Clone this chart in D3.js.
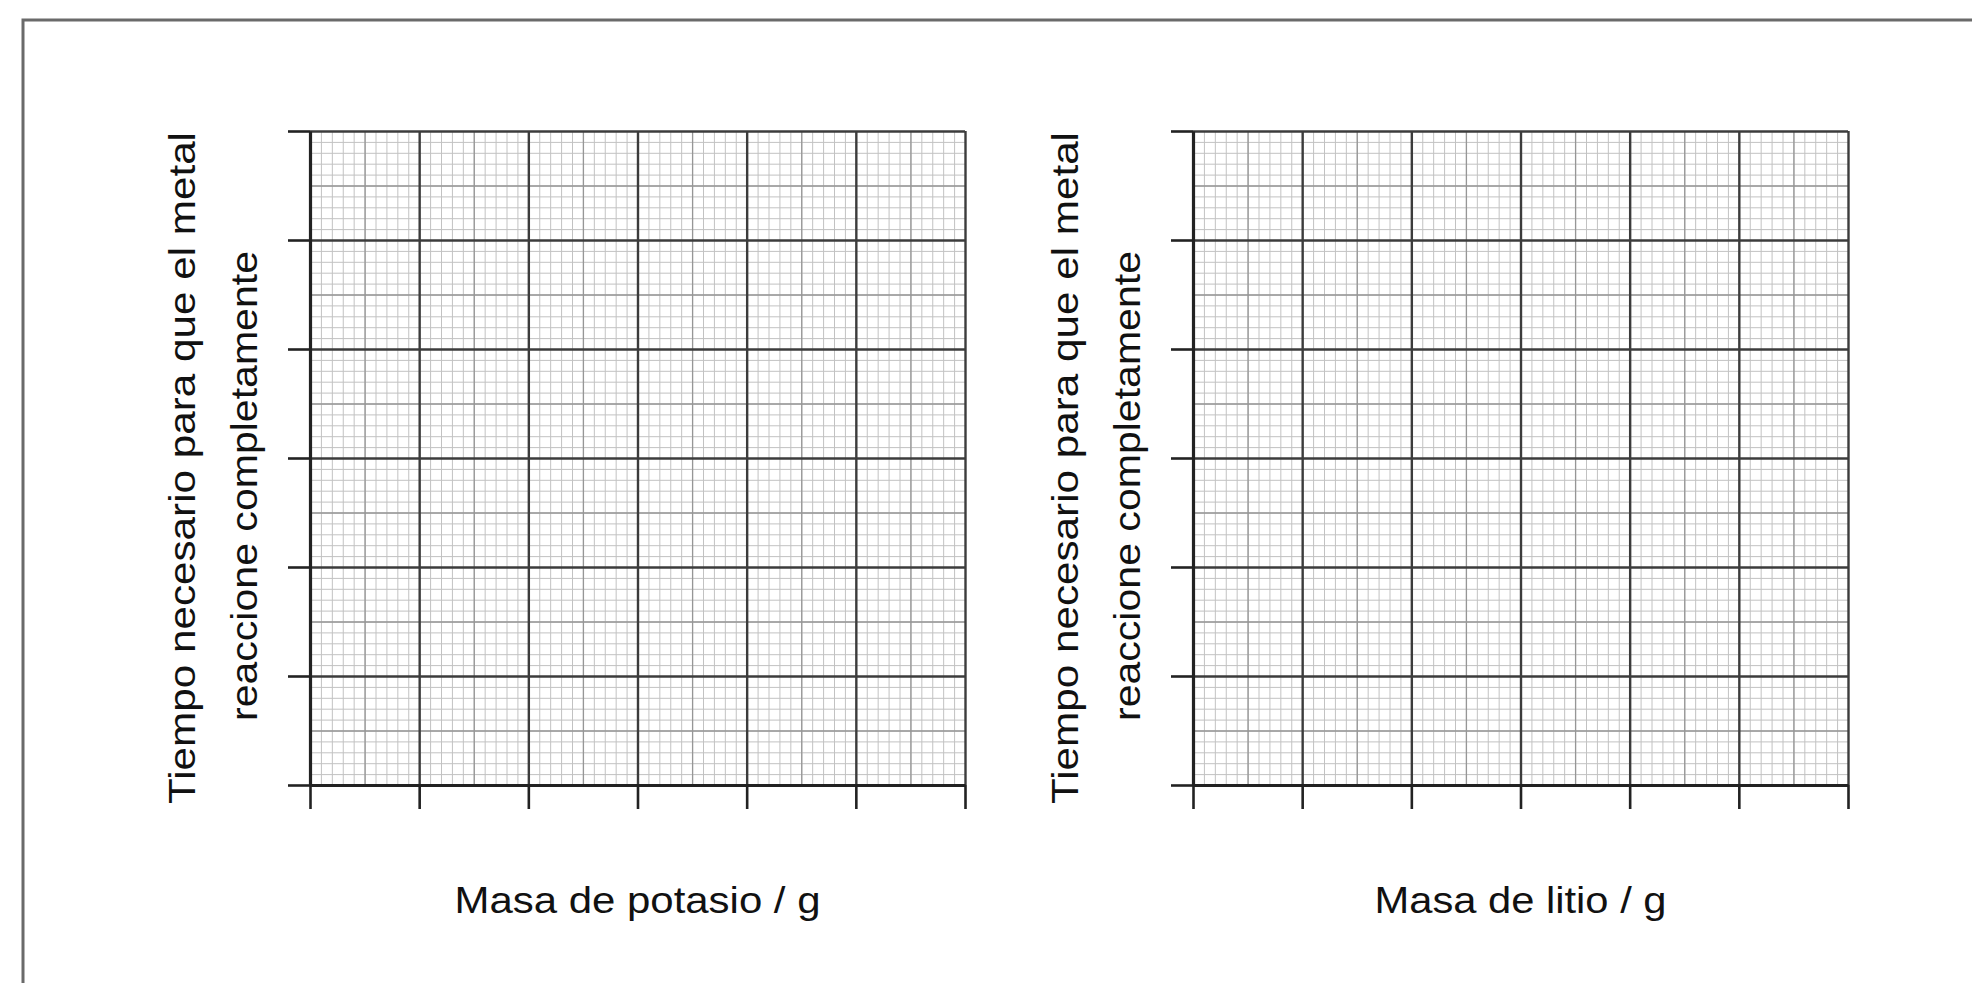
<!DOCTYPE html>
<html>
<head>
<meta charset="utf-8">
<script src="https://cdn.jsdelivr.net/npm/d3@7"></script>
<style>
  html, body { margin: 0; padding: 0; background: #fff; }
  svg { display: block; }
  .lbl { font-family: "Liberation Sans", Arial, Helvetica, sans-serif; fill: #111; }
</style>
</head>
<body>
<div id="chart"></div>
<script>
// 两张空白方格纸图：钾 / 锂

var panels = ['potasio', 'litio'];
var xLabels = ['Masa de potasio / g', 'Masa de litio / g'];
var yLabelLines = ['Tiempo necesario para que el metal', 'reaccione completamente'];
var xDomain = [0, 6];
var yDomain = [0, 6];
var majorTicks = [0, 1, 2, 3, 4, 5, 6];

var W = 1972, H = 983;
var panelLeft = [310, 1193];
var plotTop = 131;
var plotW = 655;
var plotH = 654;

var svg = d3.select('#chart').append('svg')
    .attr('width', W)
    .attr('height', H);

// 外框
svg.append('path')
    .attr('d', 'M23,' + H + 'V20H' + W)
    .attr('fill', 'none')
    .attr('stroke', '#6a6a6a')
    .attr('stroke-width', 3);

var minorVals = d3.range(xDomain[0], xDomain[1] + 1e-9, 0.1);
var halfVals = d3.range(xDomain[0] + 0.5, xDomain[1], 1);

function gridLayer (g, x, y, vals, color, width) {
    var gx = g.append('g')
        .attr('transform', 'translate(0,' + plotH + ')')
        .call(d3.axisBottom(x).tickValues(vals).tickSize(-plotH).tickFormat(''));
    var gy = g.append('g')
        .call(d3.axisLeft(y).tickValues(vals).tickSize(-plotW).tickFormat(''));
    [gx, gy].forEach(function (a) {
        a.select('.domain').remove();
        a.selectAll('line').attr('stroke', color).attr('stroke-width', width);
    });
}

panels.forEach(function (p, i) {
    var g = svg.append('g')
        .attr('class', 'panel-' + p)
        .attr('transform', 'translate(' + panelLeft[i] + ',' + plotTop + ')');

    var x = d3.scaleLinear().domain(xDomain).range([0, plotW]);
    var y = d3.scaleLinear().domain(yDomain).range([plotH, 0]);

    // 网格
    gridLayer(g, x, y, minorVals, '#c2c2c2', 1);
    gridLayer(g, x, y, halfVals, '#969696', 1.3);
    gridLayer(g, x, y, majorTicks, '#3c3c3c', 2.4);

    // 坐标轴
    var ax = g.append('g')
        .attr('transform', 'translate(0,' + plotH + ')')
        .call(d3.axisBottom(x).tickValues(majorTicks).tickSize(24).tickSizeOuter(0).tickFormat(''));
    var ay = g.append('g')
        .call(d3.axisLeft(y).tickValues(majorTicks).tickSize(22).tickSizeOuter(0).tickFormat(''));
    [ax, ay].forEach(function (a) {
        a.select('.domain').attr('stroke', '#222').attr('stroke-width', 3.2);
        a.selectAll('line').attr('stroke', '#222').attr('stroke-width', 2.6);
    });

    // x 轴标题
    g.append('text')
        .attr('class', 'lbl')
        .attr('x', plotW / 2)
        .attr('y', plotH + 128)
        .attr('text-anchor', 'middle')
        .attr('font-size', 36)
        .attr('textLength', i === 0 ? 366 : 292)
        .attr('lengthAdjust', 'spacingAndGlyphs')
        .text(xLabels[i]);

    // y 轴标题（两行）
    var yl = [{dx: -115, cy: 468, len: 672}, {dx: -53, cy: 486, len: 470}];
    yLabelLines.forEach(function (t, k) {
        g.append('text')
            .attr('class', 'lbl')
            .attr('transform', 'translate(' + yl[k].dx + ',' + (yl[k].cy - plotTop) + ') rotate(-90)')
            .attr('text-anchor', 'middle')
            .attr('font-size', 36)
            .attr('textLength', yl[k].len)
            .attr('lengthAdjust', 'spacingAndGlyphs')
            .text(t);
    });
});
</script>
</body>
</html>
